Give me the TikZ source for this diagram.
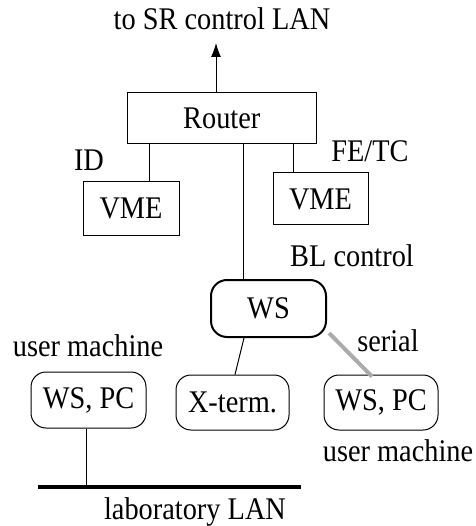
\documentclass[tikz,border=0pt]{standalone}
\usepackage{fontspec}
\setmainfont{Liberation Serif}[FakeStretch=0.9]
\usetikzlibrary{arrows.meta}
\begin{document}
\begin{tikzpicture}[x=1pt,y=-1pt,
  every node/.style={font=\fontsize{31.5}{33}\selectfont, inner sep=0pt},
  sqbox/.style={draw, line width=1pt, rectangle},
  rbox/.style={draw, line width=1pt, rectangle, rounded corners=15pt},
  wsbox/.style={draw, line width=2pt, rectangle, rounded corners=16pt},
  link/.style={line width=1pt},
  serialline/.style={line width=4pt, draw=black!33},
  lanline/.style={line width=4.5pt}]
\useasboundingbox (0,0) rectangle (475,526);
% boxes
\node[sqbox, minimum width=188.5pt, minimum height=51pt] (router) at (221.75,118.5) {Router};
\node[sqbox, minimum width=96pt, minimum height=53pt] (vmeL) at (131,208.5) {VME};
\node[sqbox, minimum width=95pt, minimum height=52pt] (vmeR) at (320.5,199) {VME};
\node[wsbox, minimum width=115pt, minimum height=57pt] (ws) at (268.5,308.5) {WS};
\node[rbox, minimum width=115pt, minimum height=56pt] (wsl) at (88.5,400) {WS, PC};
\node[rbox, minimum width=113pt, minimum height=55pt] (xt) at (232.5,402.5) {X-term.};
\node[rbox, minimum width=114pt, minimum height=55pt] (wsr) at (381,402.5) {WS, PC};
% labels
\node (lsr) at (222,19) {to SR control LAN};
\node (lid) at (89,160) {ID};
\node (lfe) at (370,151) {FE/TC};
\node (lbl) at (352,256) {BL control};
\node (lum1) at (88,346) {user machine};
\node (lser) at (388,341) {serial};
\node (lum2) at (398,451) {user machine};
\node (llan) at (195,512) {laboratory LAN};
% helper coordinates
\coordinate (top) at (216,43);
\coordinate (xA) at (216,0);
\coordinate (xL) at (149,0);
\coordinate (xC) at (243,0);
\coordinate (xR) at (293,0);
\coordinate (xW1) at (244,0);
\coordinate (xW2) at (235,0);
\coordinate (xS) at (372,0);
\coordinate (xP) at (86,0);
\coordinate (lanA) at (38,487);
\coordinate (lanB) at (301,487);
% connectors
\draw[link, -{Latex[length=14pt,width=10pt]}] (router.north -| xA) -- (top);
\draw[link] (router.south -| xL) -- (vmeL.north -| xL);
\draw[link] (router.south -| xC) -- (ws.north -| xC);
\draw[link] (router.south -| xR) -- (vmeR.north -| xR);
\draw[link] (ws.south -| xW1) -- (xt.north -| xW2);
\draw[serialline] ([shift={(2,-5)}]ws.south east) -- ([yshift=-2pt]wsr.north -| xS);
\draw[link] (wsl.south -| xP) -- (lanA -| xP);
\draw[lanline] (lanA) -- (lanB);
\end{tikzpicture}
\end{document}
